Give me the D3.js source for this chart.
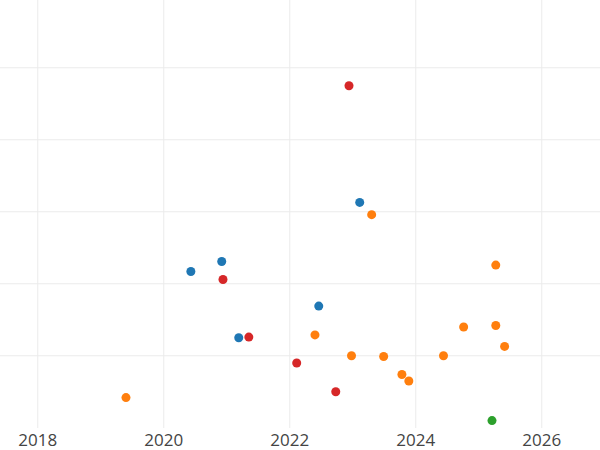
<!DOCTYPE html>
<html><head><meta charset="utf-8">
<script src="https://cdn.jsdelivr.net/npm/d3@7"></script>
<style>body{margin:0;background:#fff}</style></head>
<body><svg id="c" width="600" height="450"></svg>
<script>
const blueX=[2020.43,2020.92,2021.19,2022.46,2023.11];
const blueY=[2.17,2.31,1.25,1.69,3.13];
const redX=[2022.94,2020.94,2021.35,2022.11,2022.73];
const redY=[4.75,2.06,1.26,0.90,0.50];
const orangeX=[2019.40,2022.40,2022.98,2023.30,2023.49,2023.78,2023.89,2024.44,2024.76,2025.27,2025.27,2025.41];
const orangeY=[0.42,1.29,1.00,2.96,0.99,0.74,0.65,1.00,1.40,2.26,1.42,1.13];
const greenX=[2025.21];
const greenY=[0.10];
const xTicks=[2018,2020,2022,2024,2026];
const yGrid=[1,2,3,4,5];
const series=[[blueX,blueY,"#1f77b4"],[redX,redY,"#d62728"],[orangeX,orangeY,"#ff7f0e"],[greenX,greenY,"#2ca02c"]];
const svg=d3.select("#c");
const x=d3.scaleLinear().domain([2017.413,2026.937]).range([0.8,600.8]);
const y=d3.scaleLinear().domain([0,5.93]).range([427.8,0.8]);
svg.append("g").selectAll("line").data(yGrid).join("line")
 .attr("x1",0).attr("x2",600).attr("y1",d=>y(d)).attr("y2",d=>y(d)).attr("stroke","#ebebeb");
svg.append("g").selectAll("line").data(xTicks).join("line")
 .attr("x1",d=>x(d)).attr("x2",d=>x(d)).attr("y1",0).attr("y2",428).attr("stroke","#ebebeb");
svg.append("g").selectAll("text").data(xTicks).join("text")
 .attr("x",d=>x(d)).attr("y",446).attr("text-anchor","middle")
 .attr("font-family","Open Sans, sans-serif").attr("font-size",17).attr("fill","#444").text(d=>d);
series.forEach(([xs,ys,c])=>{
 svg.append("g").selectAll("circle").data(xs.map((v,i)=>[v,ys[i]])).join("circle")
  .attr("cx",d=>x(d[0])).attr("cy",d=>y(d[1])).attr("r",4.5).attr("fill",c);
});
</script></body></html>
